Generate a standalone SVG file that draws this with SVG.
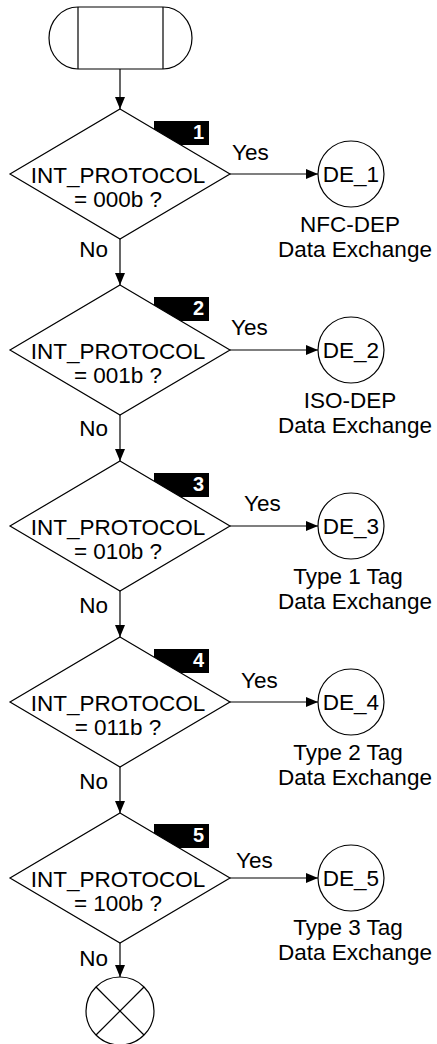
<svg xmlns="http://www.w3.org/2000/svg" width="437" height="1044" viewBox="0 0 437 1044">
<defs>
<style>
.ln{stroke:#000;stroke-width:1.2;fill:none}
.sh{stroke:#000;stroke-width:1.2;fill:#fff}
.t{font-family:"Liberation Sans",Arial,sans-serif;font-size:22.5px;fill:#000}
.m{text-anchor:middle}
.e{text-anchor:end}
.num{font-family:"Liberation Sans",Arial,sans-serif;font-size:20px;font-weight:bold;fill:#fff;text-anchor:end}
</style>
<marker id="arr" markerWidth="12" markerHeight="10" refX="12" refY="5" orient="auto" markerUnits="userSpaceOnUse">
<path d="M0,0 L12,5 L0,10 Z" fill="#000"/>
</marker>
</defs>
<rect width="437" height="1044" fill="#fff"/>

<g id="connectors">
<line class="ln" x1="120" y1="69" x2="120" y2="109" marker-end="url(#arr)"/>
<line class="ln" x1="120" y1="239" x2="120" y2="285" marker-end="url(#arr)"/>
<line class="ln" x1="120" y1="415" x2="120" y2="461" marker-end="url(#arr)"/>
<line class="ln" x1="120" y1="591" x2="120" y2="637" marker-end="url(#arr)"/>
<line class="ln" x1="120" y1="767" x2="120" y2="813" marker-end="url(#arr)"/>
<line class="ln" x1="120" y1="943" x2="120" y2="977" marker-end="url(#arr)"/>
<line class="ln" x1="230" y1="174" x2="318" y2="174" marker-end="url(#arr)"/>
<line class="ln" x1="230" y1="350" x2="318" y2="350" marker-end="url(#arr)"/>
<line class="ln" x1="230" y1="526" x2="318" y2="526" marker-end="url(#arr)"/>
<line class="ln" x1="230" y1="702" x2="318" y2="702" marker-end="url(#arr)"/>
<line class="ln" x1="230" y1="878" x2="318" y2="878" marker-end="url(#arr)"/>
<text class="t" x="232" y="160">Yes</text>
<text class="t" x="231" y="335">Yes</text>
<text class="t" x="244" y="511">Yes</text>
<text class="t" x="241" y="688">Yes</text>
<text class="t" x="236" y="868">Yes</text>
<text class="t e" x="108" y="257">No</text>
<text class="t e" x="108" y="436">No</text>
<text class="t e" x="108" y="613">No</text>
<text class="t e" x="108" y="789">No</text>
<text class="t e" x="108" y="966">No</text>
</g>

<g id="start">
<path class="sh" d="M78,7 L163,7 A29,31 0 0 1 163,69 L78,69 A29,31 0 0 1 78,7 Z"/>
<line class="ln" x1="78" y1="7" x2="78" y2="69"/>
<line class="ln" x1="163" y1="7" x2="163" y2="69"/>
</g>

<g id="decision1">
<rect x="154" y="121" width="55" height="24" fill="#000"/>
<text class="num" x="204" y="139">1</text>
<polygon class="sh" points="120,109 230,174 120,239 10,174"/>
<text class="t m" x="118" y="183">INT_PROTOCOL</text>
<text class="t m" x="118" y="207">= 000b ?</text>
</g>
<g id="decision2">
<rect x="154" y="297" width="55" height="24" fill="#000"/>
<text class="num" x="204" y="315">2</text>
<polygon class="sh" points="120,285 230,350 120,415 10,350"/>
<text class="t m" x="118" y="359">INT_PROTOCOL</text>
<text class="t m" x="118" y="383">= 001b ?</text>
</g>
<g id="decision3">
<rect x="154" y="473" width="55" height="24" fill="#000"/>
<text class="num" x="204" y="491">3</text>
<polygon class="sh" points="120,461 230,526 120,591 10,526"/>
<text class="t m" x="118" y="535">INT_PROTOCOL</text>
<text class="t m" x="118" y="559">= 010b ?</text>
</g>
<g id="decision4">
<rect x="154" y="649" width="55" height="24" fill="#000"/>
<text class="num" x="204" y="667">4</text>
<polygon class="sh" points="120,637 230,702 120,767 10,702"/>
<text class="t m" x="118" y="711">INT_PROTOCOL</text>
<text class="t m" x="118" y="735">= 011b ?</text>
</g>
<g id="decision5">
<rect x="154" y="824" width="55" height="24" fill="#000"/>
<text class="num" x="204" y="842">5</text>
<polygon class="sh" points="120,813 230,878 120,943 10,878"/>
<text class="t m" x="118" y="887">INT_PROTOCOL</text>
<text class="t m" x="118" y="911">= 100b ?</text>
</g>

<g id="de1">
<circle class="sh" cx="351" cy="174" r="33"/>
<text class="t m" x="351" y="182">DE_1</text>
<text class="t m" x="350" y="232">NFC-DEP</text>
<text class="t m" x="355" y="257">Data Exchange</text>
</g>
<g id="de2">
<circle class="sh" cx="351" cy="350" r="33"/>
<text class="t m" x="351" y="358">DE_2</text>
<text class="t m" x="350" y="408">ISO-DEP</text>
<text class="t m" x="355" y="433">Data Exchange</text>
</g>
<g id="de3">
<circle class="sh" cx="351" cy="526" r="33"/>
<text class="t m" x="351" y="534">DE_3</text>
<text class="t m" x="348" y="584">Type 1 Tag</text>
<text class="t m" x="355" y="609">Data Exchange</text>
</g>
<g id="de4">
<circle class="sh" cx="351" cy="702" r="33"/>
<text class="t m" x="351" y="710">DE_4</text>
<text class="t m" x="348" y="760">Type 2 Tag</text>
<text class="t m" x="355" y="785">Data Exchange</text>
</g>
<g id="de5">
<circle class="sh" cx="351" cy="878" r="33"/>
<text class="t m" x="351" y="886">DE_5</text>
<text class="t m" x="348" y="935">Type 3 Tag</text>
<text class="t m" x="355" y="960">Data Exchange</text>
</g>

<g id="end">
<circle class="sh" cx="120" cy="1011" r="34"/>
<line class="ln" x1="96" y1="987" x2="144" y2="1035"/>
<line class="ln" x1="144" y1="987" x2="96" y2="1035"/>
</g>
</svg>
